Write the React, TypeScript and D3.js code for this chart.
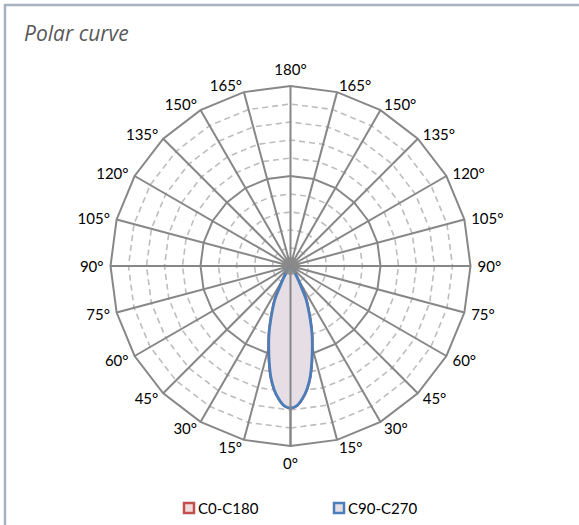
import React, { useEffect, useRef } from "react";
import * as d3 from "d3";

// angles in degrees, 0 = straight down, 180 = straight up
const angles = d3.range(-180, 182.5, 2.5);

// relative intensity (% of outer ring), 0° outward in 2.5° steps
const halfProfile = [
  78.9, 77.8, 74.2, 69.3, 62.8, 54.6, 46.8, 39.8, 32.4, 25.9, 20.6, 12.2, 7.5, 4.4,
  2.8, 1.7, 0.8, 0.4, 0.2,
];

const valueAt = (a) => {
  const i = Math.round(Math.abs(a) / 2.5);
  return i < halfProfile.length ? halfProfile[i] : 0;
};

const c0c180 = angles.map((a) => ({ angle: a, value: valueAt(a) }));
const c90c270 = angles.map((a) => ({ angle: a, value: valueAt(a) }));

const spokeAngles = d3.range(0, 360, 15);
const ringValues = d3.range(10, 101, 10);
const tickLabels = spokeAngles.map((a) => (a <= 180 ? a : 360 - a) + "°");

const series = [
  { name: "C0-C180", data: c0c180, stroke: "#c0504d", fill: "#f2dcdb" },
  { name: "C90-C270", data: c90c270, stroke: "#4a7ebb", fill: "#e5dee5" },
];

const App = () => {
  const ref = useRef(null);

  useEffect(() => {
    const width = 579;
    const height = 525;
    const cx = 290.5;
    const cy = 266;
    const R = 180;

    const svg = d3.select(ref.current);
    svg.selectAll("*").remove();
    svg.attr("width", width).attr("height", height);

    // frame
    svg
      .append("rect")
      .attr("x", 5)
      .attr("y", 5)
      .attr("width", 700)
      .attr("height", 700)
      .attr("fill", "#fff")
      .attr("stroke", "#a6b0bf")
      .attr("stroke-width", 2.5);

    svg
      .append("text")
      .attr("x", 24)
      .attr("y", 41)
      .attr("font-family", "Open Sans")
      .attr("font-style", "italic")
      .attr("font-size", 21)
      .attr("fill", "#595959")
      .text("Polar curve");

    const r = d3.scaleLinear().domain([0, 100]).range([0, R]);
    const rad = (a) => (a * Math.PI) / 180;
    const px = (a, v) => cx + r(v) * Math.sin(rad(a));
    const py = (a, v) => cy + r(v) * Math.cos(rad(a));

    const g = svg.append("g");

    // rings (polygons through the spokes)
    ringValues.forEach((v) => {
      const solid = v % 50 === 0;
      g.append("polygon")
        .attr("points", spokeAngles.map((a) => `${px(a, v)},${py(a, v)}`).join(" "))
        .attr("fill", "none")
        .attr("stroke", solid ? "#878787" : "#bdbdbd")
        .attr("stroke-width", solid ? 2 : 1.6)
        .attr("stroke-dasharray", solid ? null : "6,4");
    });

    // spokes
    spokeAngles.forEach((a) => {
      g.append("line")
        .attr("x1", cx)
        .attr("y1", cy)
        .attr("x2", px(a, 100))
        .attr("y2", py(a, 100))
        .attr("stroke", "#878787")
        .attr("stroke-width", 2);
    });

    // curves
    const line = d3
      .lineRadial()
      .angle((d) => Math.PI - rad(d.angle))
      .radius((d) => r(d.value))
      .curve(d3.curveCatmullRomClosed);

    series.forEach((s) => {
      svg
        .append("path")
        .attr("transform", `translate(${cx},${cy})`)
        .attr("d", line(s.data.slice(0, -1)))
        .attr("fill", s.fill)
        .attr("fill-opacity", 0.9)
        .attr("stroke", s.stroke)
        .attr("stroke-width", 2.8);
    });

    // grey lines drawn over the fill (visible through the lobe)
    svg
      .append("line")
      .attr("x1", cx)
      .attr("y1", cy)
      .attr("x2", cx)
      .attr("y2", py(0, 100))
      .attr("stroke", "#878787")
      .attr("stroke-width", 2);
    svg
      .append("circle")
      .attr("cx", cx)
      .attr("cy", cy)
      .attr("r", 9)
      .attr("fill", "#8a8a8a")
      .attr("opacity", 0.85);

    // angle labels, placed beside the outer vertex
    spokeAngles.forEach((a, i) => {
      const vertical = a === 0 || a === 180;
      const off = vertical ? 197 : 187;
      const s = Math.sin(rad(a));
      svg
        .append("text")
        .attr("x", cx + off * s)
        .attr("y", cy + off * Math.cos(rad(a)))
        .attr("text-anchor", vertical ? "middle" : s > 0 ? "start" : "end")
        .attr("dominant-baseline", "central")
        .attr("font-family", "Lato")
        .attr("font-size", 15)
        .attr("fill", "#000")
        .text(tickLabels[i]);
    });

    // legend
    const legendX = [184, 334];
    series.forEach((s, i) => {
      const lg = svg.append("g").attr("transform", `translate(${legendX[i]},508)`);
      lg.append("rect")
        .attr("x", 0)
        .attr("y", -5)
        .attr("width", 10)
        .attr("height", 10)
        .attr("fill", s.fill)
        .attr("stroke", s.stroke)
        .attr("stroke-width", 2.5);
      lg.append("text")
        .attr("x", 14)
        .attr("y", 0)
        .attr("dominant-baseline", "central")
        .attr("font-family", "Lato")
        .attr("font-size", 15)
        .attr("fill", "#000")
        .text(s.name);
    });
  }, []);

  return (
    <svg
      ref={ref}
      style={{ position: "absolute", left: 0, top: 0, display: "block" }}
    ></svg>
  );
};

export default App;
